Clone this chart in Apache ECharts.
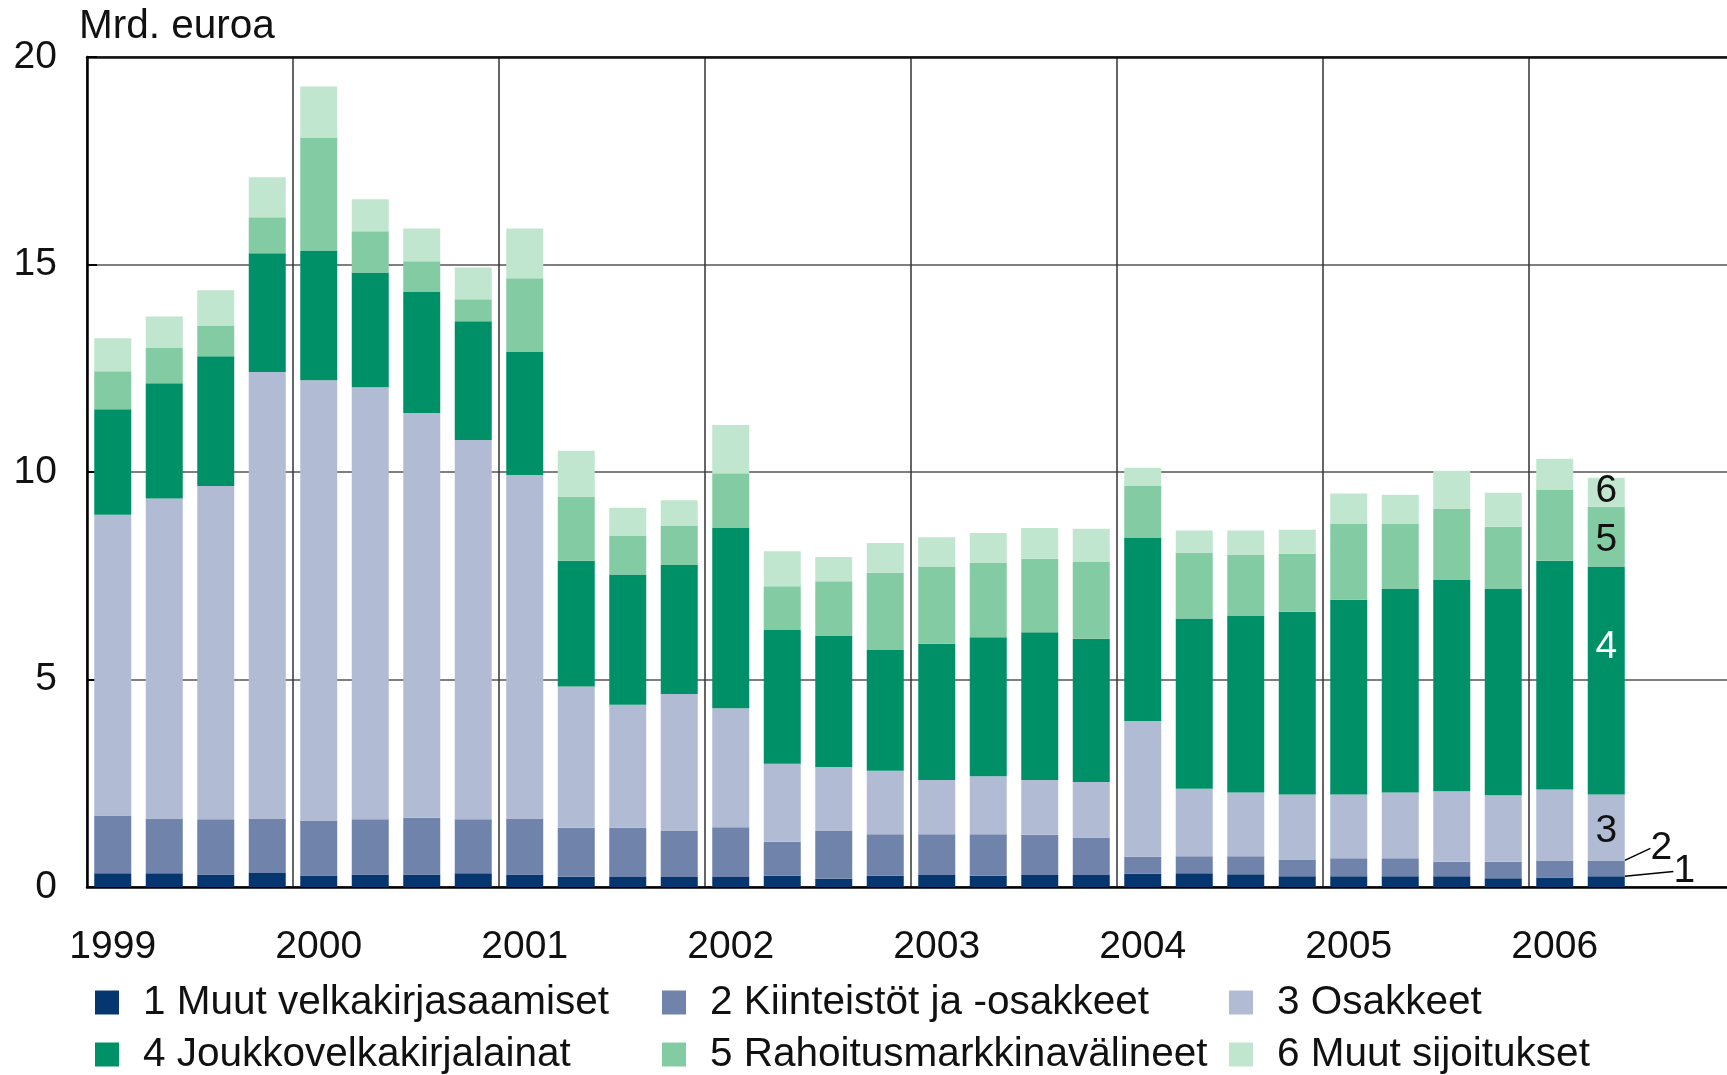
<!DOCTYPE html>
<html>
<head>
<meta charset="utf-8">
<script src="https://cdn.jsdelivr.net/npm/echarts@6/dist/echarts.min.js"></script>
<style>
  html, body { margin: 0; padding: 0; background: #fff; }
  #chart { width: 1727px; height: 1075px; }
</style>
</head>
<body>
<div id="chart"></div>
<script>
// quarters 1999Q1 .. 2006Q4, data through 2006Q2
const years = ['1999', '2000', '2001', '2002', '2003', '2004', '2005', '2006']
const quarters = []
years.forEach(y => { for (let q = 1; q <= 4; q++) quarters.push(y + ' Q' + q) })

const names = [
  '1 Muut velkakirjasaamiset',
  '2 Kiinteistöt ja -osakkeet',
  '3 Osakkeet',
  '4 Joukkovelkakirjalainat',
  '5 Rahoitusmarkkinavälineet',
  '6 Muut sijoitukset'
]
const colors = ['#06366f', '#6f83ab', '#b1bcd4', '#009068', '#83cca3', '#c1e6cf']

const muutVelka = [0.33, 0.33, 0.30, 0.34, 0.28, 0.30, 0.30, 0.33, 0.30, 0.25,
  0.24, 0.24, 0.24, 0.27, 0.20, 0.27, 0.29, 0.27, 0.29, 0.29,
  0.32, 0.33, 0.31, 0.26, 0.26, 0.26, 0.26, 0.21, 0.23, 0.26]
const kiinteistot = [1.39, 1.32, 1.33, 1.31, 1.32, 1.33, 1.37, 1.30, 1.35, 1.18,
  1.19, 1.11, 1.20, 0.82, 1.15, 1.00, 0.98, 1.00, 0.97, 0.90,
  0.41, 0.41, 0.43, 0.40, 0.43, 0.43, 0.35, 0.40, 0.41, 0.38]
const osakkeet = [7.25, 7.71, 8.03, 10.76, 10.61, 10.41, 9.75, 9.14, 8.28, 3.40,
  2.96, 3.30, 2.87, 1.88, 1.54, 1.53, 1.31, 1.40, 1.32, 1.34,
  3.27, 1.63, 1.54, 1.57, 1.54, 1.59, 1.70, 1.60, 1.71, 1.59]
const joukkovelka = [2.54, 2.78, 3.13, 2.86, 3.13, 2.77, 2.93, 2.86, 2.96, 3.03,
  3.14, 3.11, 4.34, 3.22, 3.16, 2.91, 3.28, 3.35, 3.56, 3.45,
  4.42, 4.10, 4.26, 4.40, 4.69, 4.91, 5.09, 4.98, 5.51, 5.49]
const rahoitus = [0.92, 0.86, 0.74, 0.87, 2.72, 0.99, 0.73, 0.53, 1.78, 1.54,
  0.93, 0.94, 1.32, 1.06, 1.32, 1.86, 1.85, 1.79, 1.77, 1.85,
  1.24, 1.59, 1.47, 1.40, 1.84, 1.57, 1.71, 1.49, 1.72, 1.44]
const muutSij = [0.79, 0.75, 0.85, 0.96, 1.23, 0.77, 0.79, 0.77, 1.20, 1.11,
  0.68, 0.62, 1.16, 0.84, 0.58, 0.72, 0.72, 0.72, 0.74, 0.80,
  0.44, 0.53, 0.58, 0.58, 0.72, 0.69, 0.92, 0.82, 0.74, 0.70]

const values = [muutVelka, kiinteistot, osakkeet, joukkovelka, rahoitus, muutSij]
const lastIdx = muutVelka.length - 1

const font = 'Liberation Sans, Arial, sans-serif'
const txt = '#111'

// labels on the last bar: numbers of the series
const lastLabel = [
  { color: txt, dx: 78, dy: -10, line: true },
  { color: txt, dx: 55, dy: -20, line: true },
  { color: txt, offset: [0, 4] },
  { color: '#fff', offset: [0, -33] },
  { color: txt, offset: [0, 4] },
  { color: txt, offset: [0, -1] }
]

const series = values.map((vals, s) => {
  const cfg = lastLabel[s]
  const o = {
    name: names[s],
    type: 'bar',
    stack: 'total',
    barWidth: 37,
    itemStyle: { color: colors[s] },
    emphasis: { disabled: true },
    data: vals.map((v, i) => {
      if (i !== lastIdx) return v
      return {
        value: v,
        label: {
          show: true,
          position: 'inside',
          offset: cfg.offset,
          formatter: String(s + 1),
          color: cfg.color,
          fontFamily: font,
          fontSize: 39
        }
      }
    })
  }
  if (cfg.line) {
    o.labelLayout = function (p) {
      if (p.dataIndex !== lastIdx) return {}
      return { dx: cfg.dx, dy: cfg.dy }
    }
    o.labelLine = { show: true, lineStyle: { color: '#000', width: 1.5 } }
  }
  return o
})

const legendCols = [[0, 3], [1, 4], [2, 5]]
const legendLeft = [95, 662, 1229]
const legends = legendCols.map((col, c) => ({
  orient: 'vertical',
  left: legendLeft[c],
  top: 982,
  padding: 0,
  itemWidth: 24,
  itemHeight: 24,
  itemGap: 11,
  icon: 'rect',
  selectedMode: false,
  data: col.map(i => names[i]),
  textStyle: { fontFamily: font, fontSize: 40.5, color: txt, lineHeight: 41, padding: [0, 0, 0, 19] }
}))

const chart = echarts.init(document.getElementById('chart'))
chart.setOption({
  animation: false,
  backgroundColor: '#fff',
  title: {
    text: 'Mrd. euroa',
    left: 74,
    top: 1,
    textStyle: { fontFamily: font, fontSize: 40.5, fontWeight: 'normal', color: txt }
  },
  legend: legends,
  grid: { left: 87, top: 57, width: 1648, height: 830, outerBoundsMode: 'none' },
  xAxis: [{
    type: 'category',
    data: quarters,
    axisLine: { lineStyle: { color: '#000', width: 2.5 } },
    axisTick: { show: false },
    axisLabel: {
      interval: idx => idx % 4 === 0,
      formatter: v => v.slice(0, 4),
      fontFamily: font,
      fontSize: 39,
      color: txt,
      margin: 41
    },
    splitLine: {
      show: true,
      interval: idx => idx % 4 === 0,
      lineStyle: { color: '#333', width: 1.5 }
    }
  }, {
    type: 'category',
    position: 'top',
    data: quarters,
    axisLine: { lineStyle: { color: '#111', width: 2.5 } },
    axisTick: { show: false },
    axisLabel: { show: false },
    splitLine: { show: false }
  }],
  yAxis: {
    type: 'value',
    min: 0,
    max: 20,
    interval: 5,
    axisLine: { show: true, lineStyle: { color: '#000', width: 2.5 } },
    axisTick: { show: true, inside: true, length: 10, lineStyle: { color: '#000', width: 2 } },
    axisLabel: { fontFamily: font, fontSize: 39, color: txt, margin: 30 },
    splitLine: { lineStyle: { color: '#555', width: 1.5 } }
  },
  series: series
})
</script>
</body>
</html>
